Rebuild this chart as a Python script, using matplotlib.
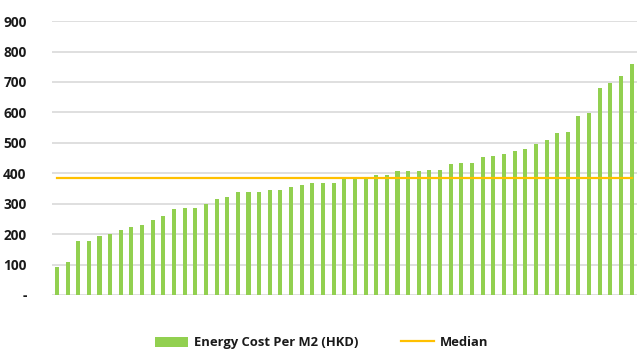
import numpy as np
import matplotlib
matplotlib.use("Agg")
import matplotlib.pyplot as plt
from matplotlib.ticker import FixedLocator, FuncFormatter

plt.rcParams['font.family'] = ['Open Sans', 'DejaVu Sans']

# Energy cost per square metre for each building, sorted ascending (HKD)
energy_cost = [93, 109, 178, 178, 195, 201, 213, 223, 230, 246,
               258, 281, 287, 287, 299, 315, 321, 338, 338, 338,
               344, 344, 355, 361, 367, 367, 367, 383, 383, 389,
               395, 395, 406, 406, 406, 412, 412, 429, 435, 435,
               452, 458, 463, 474, 480, 497, 508, 531, 537, 588,
               599, 680, 696, 719, 759]
y_ticks = [0, 100, 200, 300, 400, 500, 600, 700, 800, 900]

series_label = "Energy Cost Per M2 (HKD)"
median_label = "Median"

x = np.arange(len(energy_cost))
median_value = float(np.median(energy_cost))

fig = plt.figure(figsize=(6.37, 3.52), dpi=100)
ax = fig.add_axes([0.081, 0.162, 0.919, 0.778])

bars = ax.bar(x, energy_cost, width=0.38, color="#92D050", zorder=3,
              label=series_label)
line, = ax.plot(x, np.full(len(x), median_value), color="#FFC000", lw=1.6,
                zorder=4, label=median_label)

ax.set_xlim(-0.5, len(x) - 0.5)
ax.set_ylim(0, 900)
ax.yaxis.set_major_locator(FixedLocator(y_ticks))
ax.yaxis.set_major_formatter(FuncFormatter(lambda v, p: "-" if v == 0 else f"{int(v)}"))
ax.set_xticks([])
ax.grid(axis="y", color="#D9D9D9", lw=1.2, zorder=0)
for s in ax.spines.values():
    s.set_visible(False)
ax.tick_params(axis="y", length=0, pad=18, labelsize=9.8, labelcolor="#1a1a1a")
for lbl in ax.get_yticklabels():
    lbl.set_fontweight("bold")

fig.legend([bars, line], [series_label, median_label],
           loc="lower center", bbox_to_anchor=(0.505, -0.025), ncol=2,
           frameon=False, prop={"weight": "bold", "size": 9.4},
           handlelength=2.5, handleheight=0.8, columnspacing=3.3,
           handletextpad=0.45, labelcolor="#1a1a1a")

fig.savefig("out.png", dpi=100)
